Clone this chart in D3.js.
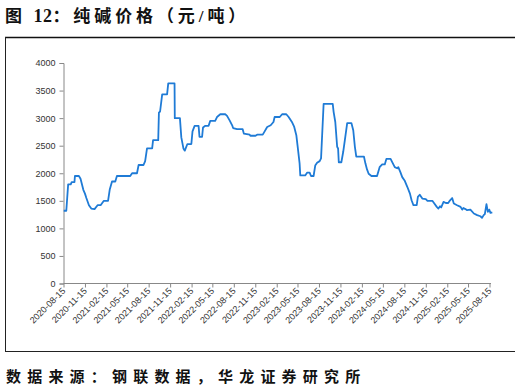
<!DOCTYPE html>
<html><head><meta charset="utf-8">
<script src="https://cdn.jsdelivr.net/npm/d3@7"></script>
<style>body{margin:0;background:#fff}svg{display:block}</style>
</head><body>
<svg id="c" width="521" height="391"></svg>
<script>
const titleParts = ["图 ", "12", "：纯碱价格（元/吨）"];
const sourceText = "数据来源：钢联数据，华龙证券研究所";
const yTicks = [0,500,1000,1500,2000,2500,3000,3500,4000];
const xTickLabels = ["2020-08-15","2020-11-15","2021-02-15","2021-05-15","2021-08-15","2021-11-15","2022-02-15","2022-05-15","2022-08-15","2022-11-15","2023-02-15","2023-05-15","2023-08-15","2023-11-15","2024-02-15","2024-05-15","2024-08-15","2024-11-15","2025-02-15","2025-05-15","2025-08-15"];
const dates = ["2020-08-16","2020-08-27","2020-09-04","2020-09-15","2020-09-19","2020-10-01","2020-10-03","2020-10-20","2020-10-27","2020-11-08","2020-11-15","2020-11-21","2020-12-02","2020-12-12","2020-12-26","2021-01-08","2021-01-21","2021-02-04","2021-02-22","2021-03-01","2021-03-11","2021-03-25","2021-04-01","2021-05-28","2021-06-05","2021-06-26","2021-07-03","2021-07-24","2021-07-31","2021-08-08","2021-08-30","2021-09-03","2021-09-25","2021-09-28","2021-10-03","2021-10-12","2021-11-02","2021-11-07","2021-12-04","2021-12-05","2021-12-27","2022-01-02","2022-01-11","2022-01-17","2022-01-28","2022-02-14","2022-02-19","2022-02-28","2022-03-17","2022-03-21","2022-04-01","2022-04-05","2022-04-15","2022-04-29","2022-05-06","2022-05-27","2022-06-04","2022-06-18","2022-07-10","2022-07-17","2022-07-28","2022-08-08","2022-08-12","2022-08-29","2022-09-22","2022-09-27","2022-10-22","2022-10-25","2022-11-16","2022-11-23","2022-12-17","2022-12-24","2023-01-05","2023-01-20","2023-02-01","2023-02-06","2023-02-28","2023-03-10","2023-03-28","2023-04-07","2023-04-21","2023-05-01","2023-05-10","2023-05-15","2023-05-24","2023-05-27","2023-06-17","2023-06-25","2023-07-06","2023-07-12","2023-07-23","2023-07-30","2023-08-07","2023-08-18","2023-08-24","2023-09-04","2023-10-13","2023-10-17","2023-10-24","2023-11-01","2023-11-05","2023-11-08","2023-11-19","2023-11-27","2023-12-04","2023-12-14","2024-01-01","2024-01-09","2024-01-16","2024-01-22","2024-02-24","2024-03-01","2024-03-08","2024-03-15","2024-03-27","2024-04-20","2024-05-01","2024-05-12","2024-05-23","2024-05-30","2024-06-17","2024-06-24","2024-07-05","2024-07-15","2024-07-20","2024-07-29","2024-08-06","2024-08-16","2024-08-28","2024-09-08","2024-09-15","2024-09-23","2024-10-07","2024-10-12","2024-10-20","2024-10-31","2024-11-15","2024-11-22","2024-12-13","2024-12-20","2025-01-01","2025-01-08","2025-01-15","2025-01-20","2025-01-30","2025-02-09","2025-02-19","2025-02-27","2025-03-08","2025-03-15","2025-03-29","2025-04-13","2025-04-20","2025-04-25","2025-05-04","2025-05-11","2025-05-25","2025-06-09","2025-06-23","2025-07-07","2025-07-14","2025-07-21","2025-07-26","2025-08-02","2025-08-08","2025-08-14","2025-08-19","2025-08-27"];
const prices = [1320,1320,1800,1800,1840,1840,1950,1950,1900,1700,1630,1550,1420,1360,1350,1420,1420,1500,1500,1700,1850,1850,1950,1950,2000,2000,2150,2150,2220,2450,2450,2600,2600,3100,3120,3430,3430,3630,3630,3000,3000,2650,2450,2410,2530,2530,2760,2860,2860,2660,2660,2830,2860,2860,2950,2950,3020,3070,3070,3040,2960,2870,2820,2800,2800,2720,2700,2680,2680,2700,2700,2750,2840,2870,2930,3020,3020,3070,3070,3020,2930,2840,2690,2510,2180,1960,1960,2010,2010,1950,1950,2140,2190,2220,2270,3260,3260,3110,2930,2480,2450,2200,2200,2390,2600,2910,2910,2780,2480,2300,2300,2180,2070,1990,1950,1950,2110,2160,2160,2260,2260,2200,2110,2090,2110,2020,1930,1870,1750,1630,1510,1420,1420,1570,1610,1540,1530,1500,1500,1460,1390,1360,1400,1380,1480,1460,1460,1510,1550,1450,1420,1390,1340,1370,1350,1330,1340,1270,1240,1220,1190,1240,1260,1440,1300,1340,1280,1290];

const parse = d3.utcParse("%Y-%m-%d");
const data = dates.map((d,i)=>({date:parse(d), value:prices[i]}));
const svg = d3.select("#c");

// frame
svg.append("line").attr("x1",5).attr("x2",515).attr("y1",37.5).attr("y2",37.5).attr("stroke","#111").attr("stroke-width",1.6);
svg.append("line").attr("x1",5.5).attr("x2",5.5).attr("y1",37).attr("y2",351).attr("stroke","#222").attr("stroke-width",1);
svg.append("line").attr("x1",5).attr("x2",515).attr("y1",351.5).attr("y2",351.5).attr("stroke","#222").attr("stroke-width",1);

const title = svg.append("text").attr("x",5).attr("y",22)
  .attr("font-family","'Liberation Serif','Noto Sans CJK SC'").attr("font-weight","bold")
  .attr("font-size",17).attr("fill","#111");
title.append("tspan").attr("letter-spacing",3.6).text(titleParts[0]);
title.append("tspan").attr("font-size",18).attr("letter-spacing",0.5).text(titleParts[1]);
title.append("tspan").attr("letter-spacing",3.9).text(titleParts[2]);

svg.append("text").attr("x",6).attr("y",382)
  .attr("font-family","'Noto Sans CJK SC'").attr("font-weight","bold")
  .attr("font-size",15).attr("letter-spacing",6.2).attr("fill","#111").text(sourceText);

const x = d3.scaleUtc().domain([parse(xTickLabels[0]), parse(xTickLabels[xTickLabels.length-1])]).range([63.5,489.5]);
const y = d3.scaleLinear().domain([0,4000]).range([283.5,63]);

const yAxis = d3.axisLeft(y).tickValues(yTicks).tickSize(4).tickPadding(4).tickFormat(d3.format("d"));
const gy = svg.append("g").attr("transform","translate(63.5,0)").call(yAxis);
gy.selectAll("text").attr("font-family","Arial, 'Liberation Sans', sans-serif").attr("font-size",9).attr("fill","#333");
gy.selectAll("line,path").attr("stroke","#888");

const xAxis = d3.axisBottom(x).tickValues(xTickLabels.map(parse)).tickSize(4).tickSizeOuter(0).tickFormat(d3.utcFormat("%Y-%m-%d"));
const gx = svg.append("g").attr("transform","translate(0,283.5)").call(xAxis);
gx.select(".domain").attr("d","M63.5,0H491");
gx.selectAll("line,path").attr("stroke","#888");
gx.selectAll("text").attr("font-family","Arial, 'Liberation Sans', sans-serif").attr("font-size",9).attr("fill","#333")
  .attr("text-anchor","end").attr("dy",0).attr("dx",0)
  .attr("transform","translate(2,8) rotate(-45)").attr("y",0).attr("x",0);

const line = d3.line().x(d=>x(d.date)).y(d=>y(d.value)).curve(d3.curveLinear);
svg.append("path").datum(data).attr("d",line).attr("fill","none")
  .attr("stroke","#1f7bd6").attr("stroke-width",1.8).attr("stroke-linejoin","round");
</script>
</body></html>
